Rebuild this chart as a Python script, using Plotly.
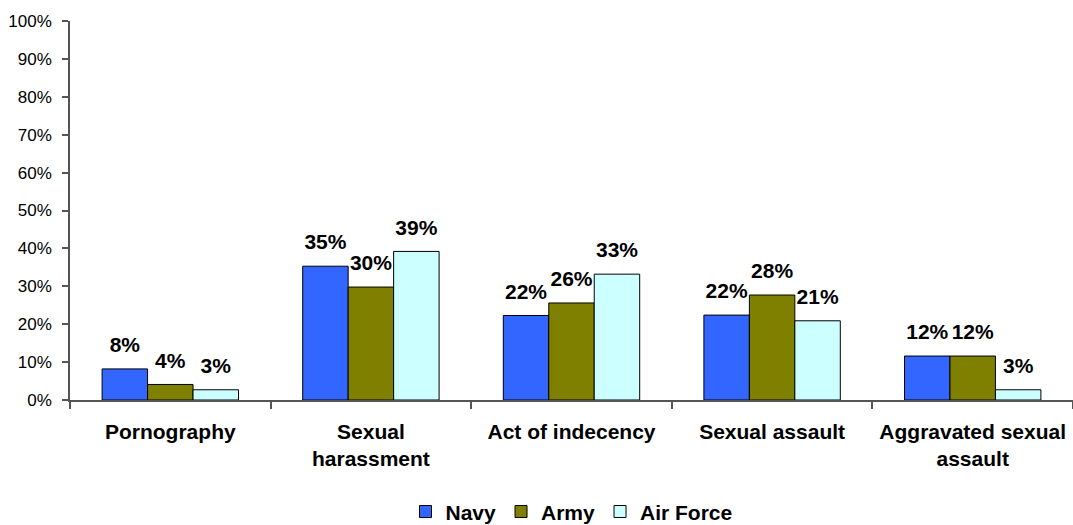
import plotly.graph_objects as go

categories = ["Pornography", "Sexual<br>harassment", "Act of indecency",
              "Sexual assault", "Aggravated sexual<br>assault"]
navy = [0.082, 0.353, 0.223, 0.224, 0.116]
army = [0.041, 0.298, 0.256, 0.277, 0.116]
air_force = [0.027, 0.392, 0.332, 0.209, 0.027]
series_names = ["Navy", "Army", "Air Force"]
series_values = [navy, army, air_force]
series_colors = ["#3366FF", "#808000", "#CCFFFF"]

FONT = "Liberation Sans, Arial, sans-serif"

fig = go.Figure()
for name, vals, col in zip(series_names, series_values, series_colors):
    fig.add_trace(go.Bar(
        x=categories, y=vals, name=name,
        marker=dict(color=col, line=dict(color="#000000", width=1)),
        hoverinfo="skip",
    ))
for name, vals in zip(series_names, series_values):
    fig.add_trace(go.Scatter(
        x=categories, y=vals, mode="markers+text",
        texttemplate="%{y:.0%}", textposition="top center",
        textfont=dict(family=FONT, size=21, color="#000000", weight="bold"),
        marker=dict(size=17, opacity=0),
        showlegend=False, hoverinfo="skip", cliponaxis=False,
    ))

fig.update_layout(
    width=1073, height=525,
    margin=dict(l=70, r=0, t=21, b=125),
    paper_bgcolor="white", plot_bgcolor="white",
    barmode="group", bargap=0.32,
    scattermode="group", scattergap=0.32,
    font=dict(family=FONT, color="#000000"),
    showlegend=True,
    legend=dict(
        orientation="h", x=0.5, xanchor="center",
        yref="container", y=0.025, yanchor="middle",
        font=dict(family=FONT, size=21, color="#000000", weight="bold"),
        itemwidth=30,
    ),
)
fig.update_xaxes(
    type="category", tickson="boundaries", ticks="outside", ticklen=7,
    tickcolor="#555555", tickwidth=1.5,
    showline=True, linecolor="#555555", linewidth=1.5,
    showgrid=False, zeroline=False, ticklabelstandoff=12,
    tickfont=dict(family=FONT, size=21, color="#000000", weight="bold"),
)
fig.update_yaxes(
    range=[0, 1], dtick=0.1, tickformat=".0%",
    ticks="outside", ticklen=6, tickcolor="#555555", tickwidth=1.5,
    showline=True, linecolor="#555555", linewidth=1.5,
    showgrid=False, zeroline=False, ticklabelstandoff=7,
    tickfont=dict(family=FONT, size=17, color="#000000"),
)

fig.write_html("out.html")
